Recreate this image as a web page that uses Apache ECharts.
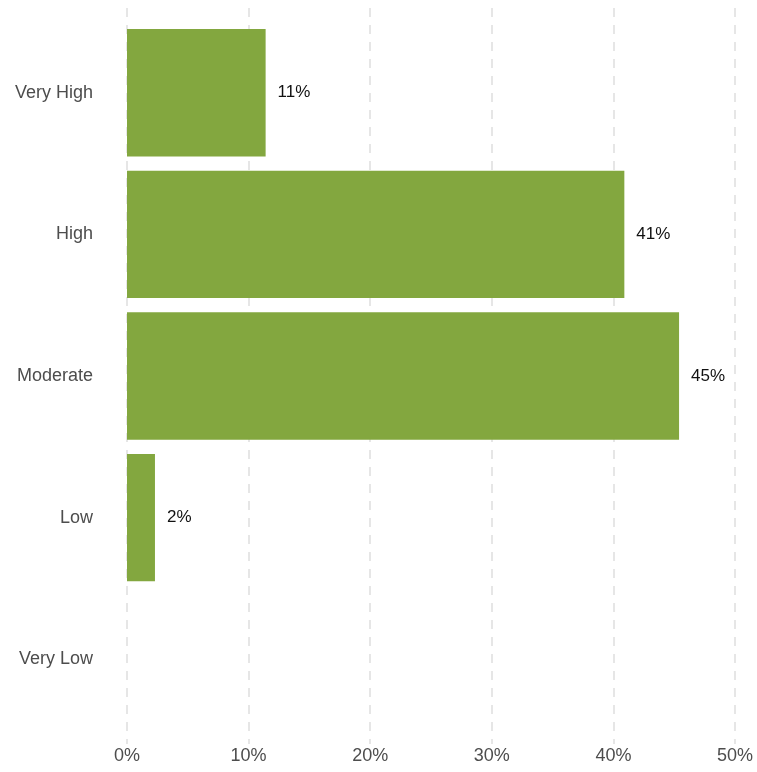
<!DOCTYPE html>
<html>
<head>
<meta charset="utf-8">
<script src="https://cdn.jsdelivr.net/npm/echarts@6/dist/echarts.min.js"></script>
<style>html,body{margin:0;padding:0;background:#fff}#c{width:757px;height:772px}</style>
</head>
<body>
<div id="c"></div>
<script>
var categories = ['Very Low', 'Low', 'Moderate', 'High', 'Very High'];
var values = [0, 2.3, 45.4, 40.9, 11.4];
var xTicks = [0, 10, 20, 30, 40, 50];

var chart = echarts.init(document.getElementById('c'));
var font = 'Liberation Sans, Arial, Helvetica, sans-serif';
chart.setOption({
  animation: false,
  grid: [
    {left: 127, right: 22, top: 8, bottom: 28},
    {left: 127, right: 22, top: 22, bottom: 42}
  ],
  xAxis: [
    {gridIndex: 0, type: 'value', min: xTicks[0], max: xTicks[xTicks.length - 1], interval: 10,
     axisLine: {show: false}, axisTick: {show: false},
     axisLabel: {formatter: '{value}%', color: '#4d4d4d', fontSize: 18, fontFamily: font, margin: 3},
     splitLine: {show: true, lineStyle: {color: '#e6e6e6', width: 2, type: [9, 8]}}},
    {gridIndex: 1, type: 'value', min: xTicks[0], max: xTicks[xTicks.length - 1], interval: 10,
     show: false, splitLine: {show: false}}
  ],
  yAxis: [
    {gridIndex: 0, type: 'value', show: false, splitLine: {show: false}},
    {gridIndex: 1, type: 'category', data: categories,
     axisLine: {show: false}, axisTick: {show: false},
     axisLabel: {color: '#4d4d4d', fontSize: 18, fontFamily: font, margin: 34},
     splitLine: {show: false}}
  ],
  series: [{
    type: 'bar', xAxisIndex: 1, yAxisIndex: 1,
    data: values, barWidth: '90%',
    itemStyle: {color: '#83a73f'},
    label: {show: true, position: 'right', distance: 12, color: '#111', fontSize: 17, fontFamily: font,
      formatter: function (p) { return p.value > 0 ? Math.round(p.value) + '%' : ''; }}
  }]
});
</script>
</body>
</html>
